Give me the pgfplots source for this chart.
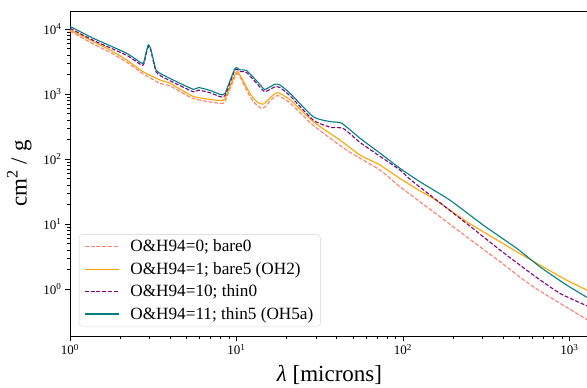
\documentclass[border=0pt]{standalone}
\usepackage{fontspec}
\setmainfont{Liberation Serif}
\usepackage{pgfplots}
\pgfplotsset{compat=1.18}
\definecolor{csalmon}{RGB}{250,128,114}
\definecolor{corange}{RGB}{255,165,0}
\definecolor{cpurple}{RGB}{128,0,128}
\definecolor{cteal}{RGB}{0,128,128}
\begin{document}
\begin{tikzpicture}
\begin{axis}[
  name=ax,
  scale only axis, width=519pt, height=325pt,
  xmode=log, ymode=log,
  xmin=1, xmax=1310, ymin=0.19, ymax=1.89e4,
  axis line style={line width=0.9pt},
  tick align=outside, tick pos=left,
  major tick length=5pt, minor tick length=3pt,
  every tick/.style={black, line width=0.7pt},
  xtick={1,10,100,1000},
  xticklabels={10\textsuperscript{0},10\textsuperscript{1},10\textsuperscript{2},10\textsuperscript{3}},
  ytick={1,10,100,1000,10000},
  yticklabels={10\textsuperscript{0},10\textsuperscript{1},10\textsuperscript{2},10\textsuperscript{3},10\textsuperscript{4}},
  tick label style={font=\fontsize{13}{14}\selectfont},
  xlabel={\textit{λ} [microns]},
  ylabel={cm\textsuperscript{2} / g},
  label style={font=\fontsize{23}{26}\selectfont},
  xlabel style={yshift=-3pt},
  ylabel style={yshift=5pt},
  legend cell align=left,
  legend image code/.code={\draw[#1, line width=1.2pt] (0pt,0pt) -- (34pt,0pt);},
  legend style={at={(0,0)}, anchor=south west, xshift=9pt, yshift=9.5pt,
    draw=black!18, rounded corners=3pt, fill=white,
    font=\fontsize{17.2}{19}\selectfont, row sep=5pt, inner xsep=5pt, inner ysep=3.5pt},
]
\addplot[csalmon, line width=1.1pt, dash pattern=on 4pt off 1.8pt, smooth, tension=0.35] coordinates {
(1.0,9226)(1.38,5888)(1.74,4365)(2.19,3090)(2.75,2042)(3.47,1462)(3.99,1334)
(5.5,851)(7.96,719)(8.53,776)(9.93,1995)(10.5,1820)(12.05,912)(13.2,676)(14.5,603)
(16.6,871)(17.8,944)(21,724)(28.9,330)(45.9,137)(72.8,67.6)(96,37.5)(152,15.5)
(241,6.38)(383,2.63)(607,1.084)(1310,0.325)};
\addlegendentry{\hspace{9pt}O\&H94=0; bare0}
\addplot[corange, line width=1.1pt, smooth, tension=0.35] coordinates {
(1.0,9661)(1.38,6383)(1.74,4753)(2.19,3334)(2.75,2203)(3.47,1641)(3.99,1462)
(5.5,918)(7.96,794)(8.53,861)(9.93,2138)(10.5,1950)(12.05,1023)(13.2,767)(14.5,700)
(16.6,966)(17.8,1047)(21,813)(28.9,376)(41.9,195)(55.2,115)(72.8,80.9)(96,50.1)
(126.5,32.4)(152,24.8)(241,10.9)(383,5.35)(482,3.75)(665,2.34)(962,1.374)(1310,0.93)};
\addlegendentry{\hspace{9pt}O\&H94=1; bare5 (OH2)}
\addplot[cpurple, line width=1.1pt, dash pattern=on 4pt off 1.8pt, smooth, tension=0.35] coordinates {
(1.0,10233)(1.38,6683)(2.19,3936)(2.73,2754)(2.85,3890)(2.95,5370)(3.05,4786)(3.2,2818)
(3.29,2188)(3.47,1928)(3.98,1603)(5.5,1084)(5.9,1148)(6.93,1047)(7.96,912)(8.53,944)
(9.8,2344)(10.5,2213)(11.5,2138)(13.8,1288)(14.8,1084)(17.0,1288)(18.2,1259)(21,933)
(28.9,398)(36.5,309)(43.8,295)(55.2,180)(72.8,110)(96,67.6)(115,44.7)(241,10.2)
(383,3.98)(607,1.64)(877,0.859)(1310,0.535)};
\addlegendentry{\hspace{9pt}O\&H94=10; thin0}
\addplot[cteal, line width=1.1pt, smooth, tension=0.35] coordinates {
(1.0,10965)(1.38,7194)(2.19,4227)(2.73,2951)(2.85,4169)(2.95,5689)(3.05,5012)(3.2,3020)
(3.29,2344)(3.47,2080)(3.98,1738)(5.5,1180)(5.9,1259)(6.93,1135)(7.96,989)(8.53,1023)
(9.8,2483)(10.5,2344)(11.5,2291)(13.8,1413)(14.8,1175)(17.0,1413)(18.2,1380)(21,1023)
(28.9,447)(36.5,376)(42.8,355)(55.2,209)(72.8,123)(96,71.9)(126.5,44.7)(191,23.4)
(303,9.66)(482,4.23)(665,2.20)(962,1.153)(1310,0.715)};
\addlegendentry{\hspace{9pt}O\&H94=11; thin5 (OH5a)}
\end{axis}
\pgfresetboundingbox
\path ([shift={(-70pt,-52pt)}]ax.south west) rectangle ([shift={(-2pt,11pt)}]ax.north east);
\end{tikzpicture}
\end{document}
